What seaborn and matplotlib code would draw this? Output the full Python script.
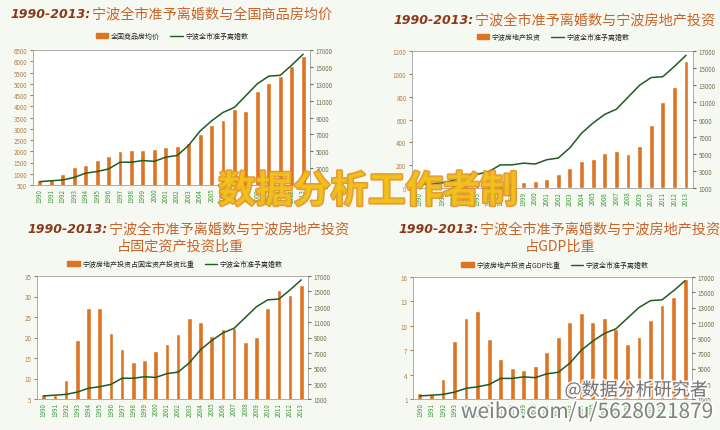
import numpy as np
import pandas as pd
import matplotlib
matplotlib.use("Agg")
import matplotlib.pyplot as plt
import matplotlib.patheffects as pe
from matplotlib.lines import Line2D
from matplotlib.patches import Patch
import seaborn as sns

sns.set_style("white")
plt.rcParams['font.family'] = ['Noto Sans CJK SC', 'DejaVu Sans']

years = [str(y) for y in range(1990, 2014)]

# 宁波全市准予离婚数
divorces = [1400, 1500, 1600, 1900, 2400, 2600, 2900, 3700, 3700, 3900, 3800, 4300,
            4500, 5700, 7400, 8600, 9600, 10200, 11600, 13000, 13900, 14000, 15200, 16500]
# 全国商品房均价
house_price = [703, 786, 995, 1291, 1409, 1591, 1806, 1997, 2063, 2053, 2112, 2170,
               2250, 2359, 2778, 3168, 3367, 3864, 3800, 4681, 5032, 5357, 5791, 6237]
# 宁波房地产投资
re_invest = [3, 4, 12, 30, 40, 45, 45, 40, 45, 50, 60, 78,
             122, 174, 238, 255, 304, 322, 301, 365, 551, 751, 881, 1113]
# 宁波房地产投资占固定资产投资比重
re_share_fixed = [6.3, 6.0, 9.7, 19.5, 27.1, 27.1, 21.2, 17.2, 14.1, 14.6, 16.6, 18.4,
                  20.8, 24.7, 23.8, 20.4, 22.0, 22.3, 19.0, 20.2, 27.3, 31.5, 30.4, 32.7]
# 宁波房地产投资占GDP比重
re_share_gdp = [1.7, 1.65, 3.4, 8.1, 11.0, 11.8, 8.4, 5.9, 4.8, 4.6, 5.0, 6.8,
                8.6, 10.5, 11.6, 10.5, 10.9, 9.6, 7.8, 8.6, 10.7, 12.5, 13.5, 15.7]

line_label = "宁波全市准予离婚数"
BAR = "#dc7424"
LINE = "#1f5c1f"
W, H = 720, 431

fig = plt.figure(figsize=(7.2, 4.31), dpi=100, facecolor="#f6f9f1")


def px_axes(left, right, top, bottom):
    return fig.add_axes([left / W, 1 - bottom / H, (right - left) / W, (bottom - top) / H])


panels = [
    dict(rect=(33, 310, 51, 186), bars=house_price, bar_label="全国商品房均价",
         ylim=(500, 6500), yticks=np.arange(500, 6501, 500), leg=(172, 37)),
    dict(rect=(412, 693, 52, 189), bars=re_invest, bar_label="宁波房地产投资",
         ylim=(0, 1200), yticks=np.arange(0, 1201, 200), leg=(553, 38)),
    dict(rect=(37, 308, 277, 400), bars=re_share_fixed, bar_label="宁波房地产投资占固定资产投资比重",
         ylim=(5, 35), yticks=np.arange(5, 36, 5), leg=(175, 265)),
    dict(rect=(413, 692, 278, 400), bars=re_share_gdp, bar_label="宁波房地产投资占GDP比重",
         ylim=(1, 16), yticks=np.arange(1, 17, 3), leg=(555, 266)),
]

for p in panels:
    ax = px_axes(*p["rect"])
    ax.set_facecolor("white")
    df = pd.DataFrame({"year": years, "value": p["bars"]})
    sns.barplot(data=df, x="year", y="value", color=BAR, width=0.42, ax=ax,
                saturation=1, zorder=2)
    ax.set_ylim(*p["ylim"])
    ax.set_yticks(p["yticks"])
    ax.set_xlabel("")
    ax.set_ylabel("")
    ax.tick_params(axis="y", labelsize=4.5, colors="#b08050", length=2, pad=2)
    ax.tick_params(axis="x", labelsize=4.5, labelcolor="#3c9a3c", rotation=90,
                   length=0, pad=2)
    for s in ax.spines.values():
        s.set_color("#a0a0a0")
        s.set_linewidth(0.6)

    ax2 = ax.twinx()
    sns.lineplot(x=np.arange(len(years)), y=divorces, color=LINE, lw=1.1, ax=ax2)
    ax2.set_ylim(1000, 17000)
    ax2.set_yticks(np.arange(1000, 17001, 2000))
    ax2.tick_params(axis="y", labelsize=4.5, colors="#707050", length=2, pad=2)
    for s in ax2.spines.values():
        s.set_visible(False)
    ax.set_xlim(-0.6, len(years) - 0.4)

    handles = [Patch(color=BAR, label=p["bar_label"]),
               Line2D([], [], color=LINE, lw=1, label=line_label)]
    fig.legend(handles=handles, loc="center", ncol=2, frameon=False, fontsize=5,
               bbox_to_anchor=(p["leg"][0] / W, 1 - p["leg"][1] / H),
               handlelength=1.8, handleheight=0.6, columnspacing=1.5, handletextpad=0.4)


# titles
def title(x, y, rest):
    t1 = fig.text(x / W, 1 - y / H, "1990-2013:", fontsize=9, fontweight="bold",
                  fontstyle="italic", color="#8a3a1c", va="center", ha="left",
                  family="DejaVu Sans")
    fig.canvas.draw()
    bb = t1.get_window_extent()
    fig.text(bb.x1 / W + 0.003, 1 - y / H, rest, fontsize=10.2, color="#c8642a",
             va="center", ha="left")


title(10, 15, "宁波全市准予离婚数与全国商品房均价")
title(393, 20, "宁波全市准予离婚数与宁波房地产投资")
title(27, 230, "宁波全市准予离婚数与宁波房地产投资")
fig.text(180 / W, 1 - 247 / H, "占固定资产投资比重", fontsize=10.2, color="#c8642a",
         va="center", ha="center")
title(398, 230, "宁波全市准予离婚数与宁波房地产投资")
fig.text(560 / W, 1 - 247 / H, "占GDP比重", fontsize=10.2, color="#c8642a",
         va="center", ha="center")

# watermarks
fig.text(368 / W, 1 - 192 / H, "数据分析工作者制", fontsize=27, fontweight="bold",
         fontstyle="italic", color="#f2c21a", ha="center", va="center", alpha=0.85,
         path_effects=[pe.withStroke(linewidth=2, foreground="#e08a20")])
fig.text(636 / W, 1 - 391 / H, "@数据分析研究者", fontsize=13, color="#606060",
         ha="center", va="center", alpha=0.85,
         path_effects=[pe.withStroke(linewidth=2.5, foreground="white")])
fig.text(587 / W, 1 - 413 / H, "weibo.com/u/5628021879", fontsize=15, color="#707070",
         ha="center", va="center", alpha=0.85,
         path_effects=[pe.withStroke(linewidth=2.5, foreground="white")])

fig.savefig("out.png", dpi=100, facecolor=fig.get_facecolor())
